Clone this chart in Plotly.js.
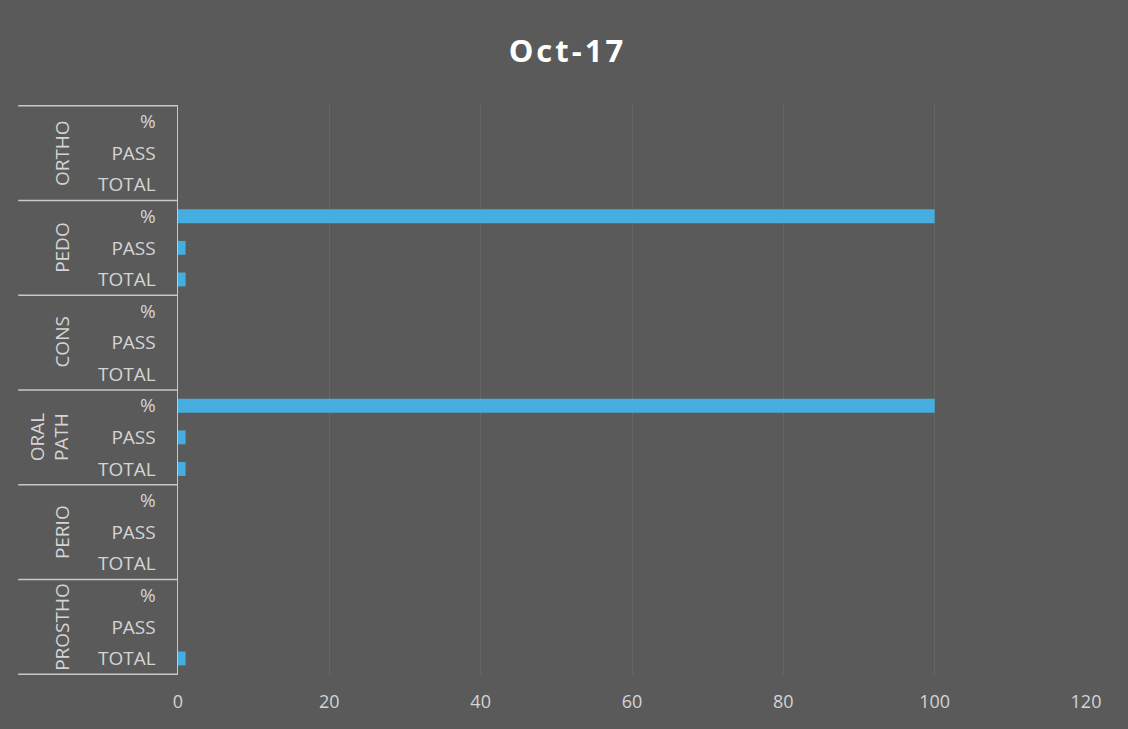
<!DOCTYPE html>
<html>
<head>
<meta charset="utf-8">
<script src="https://cdn.plot.ly/plotly-3.0.1.min.js"></script>
<style>
html,body{margin:0;padding:0;background:#5a5a5a;}
#chart{width:1128px;height:729px;}
.gtitle{letter-spacing:3px;}
</style>
</head>
<body>
<div id="chart"></div>
<script>
// Data
const groups = ["ORTHO", "PEDO", "CONS", "ORAL<br>PATH", "PERIO", "PROSTHO"];
const subs = ["%", "PASS", "TOTAL"];
const orthoVals = [0, 0, 0];
const pedoVals = [100, 1, 1];
const consVals = [0, 0, 0];
const oralPathVals = [100, 1, 1];
const perioVals = [0, 0, 0];
const prosthoVals = [0, 0, 1];
const xTicks = [0, 20, 40, 60, 80, 100, 120];

const groupVals = [orthoVals, pedoVals, consVals, oralPathVals, perioVals, prosthoVals];

const keys = [], vals = [], ticktext = [];
groups.forEach((g, gi) => {
  subs.forEach((s, si) => {
    keys.push(gi + "|" + s);
    ticktext.push(s);
    vals.push(groupVals[gi][si]);
  });
});

const labelColor = "#d4d4d4";
const lineColor = "#c8c8c8";
const fontFam = "'Open Sans', 'DejaVu Sans', sans-serif";

const annotations = groups.map((g, gi) => ({
  text: g,
  xref: "paper", yref: "y",
  x: 0, y: gi + "|PASS",
  xshift: g.indexOf("<br>") >= 0 ? -129 : -116,
  xanchor: "center", yanchor: "middle",
  textangle: -90,
  showarrow: false,
  font: {family: fontFam, size: 19, color: labelColor}
}));

const shapes = [];
for (let i = 0; i <= groups.length; i++) {
  shapes.push({
    type: "line", xref: "paper", yref: "y",
    x0: -0.176, x1: 0, y0: i * subs.length - 0.5, y1: i * subs.length - 0.5,
    line: {color: lineColor, width: 1.5}
  });
}

const trace = {
  type: "bar", orientation: "h",
  x: vals, y: keys,
  marker: {color: "#45addf"},
  hoverinfo: "skip"
};

const layout = {
  width: 1128, height: 729,
  paper_bgcolor: "#5a5a5a", plot_bgcolor: "#5a5a5a",
  margin: {l: 178, r: 42, t: 105, b: 54},
  title: {text: "<b>Oct-17</b>", x: 0.503, xanchor: "center", y: 0.93, yanchor: "middle",
          font: {family: fontFam, size: 31, color: "#ffffff"}},
  bargap: 0.56,
  showlegend: false,
  xaxis: {
    range: [0, 120], tickvals: xTicks, ticktext: xTicks.map(String),
    showgrid: true, gridcolor: "#666666", gridwidth: 1,
    zeroline: false, showline: false,
    tickfont: {family: fontFam, size: 18, color: labelColor},
    ticks: "", ticklabelstandoff: 14
  },
  yaxis: {
    type: "category", autorange: "reversed",
    categoryorder: "array", categoryarray: keys,
    tickvals: keys, ticktext: ticktext,
    showgrid: false, zeroline: false,
    showline: true, linecolor: lineColor, linewidth: 1.5,
    ticks: "", ticklabelstandoff: 17,
    tickfont: {family: fontFam, size: 19, color: labelColor}
  },
  annotations: annotations,
  shapes: shapes
};

Plotly.newPlot("chart", [trace], layout, {displayModeBar: false, staticPlot: true});
</script>
</body>
</html>
